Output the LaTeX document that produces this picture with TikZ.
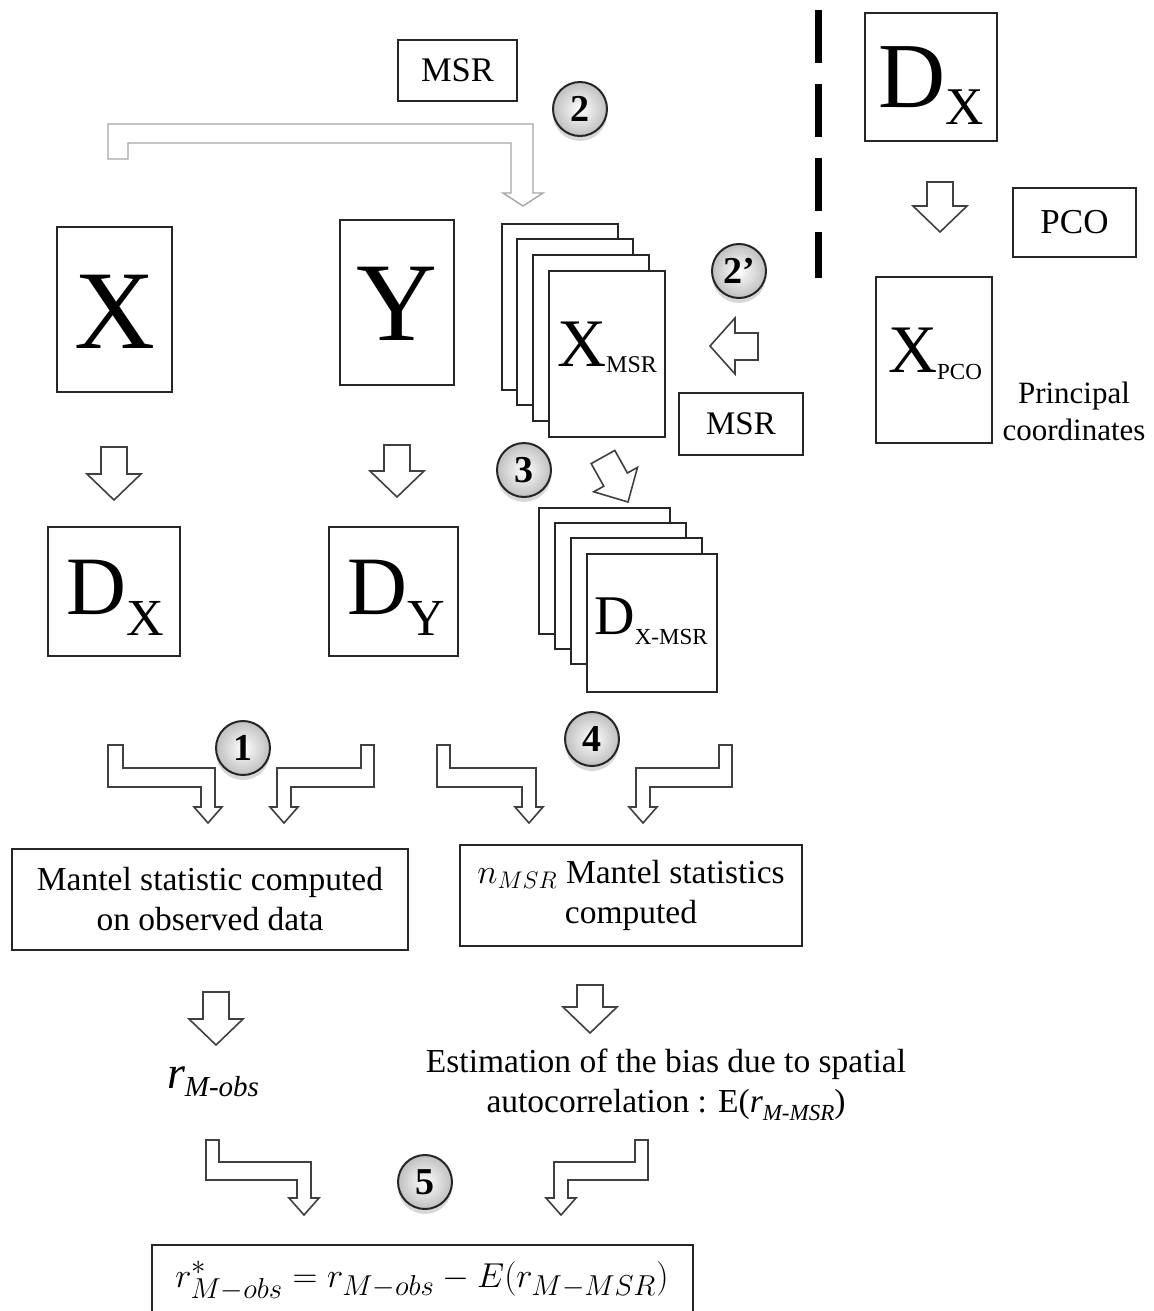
\documentclass[tikz,border=0pt]{standalone}
\usepackage{fontspec}
\setmainfont{Liberation Serif}
\usetikzlibrary{shadows}
\newcommand\cbox[5]{\node[bx, minimum width={(#4-#2)*0.5pt}, minimum height={(#5-#3)*0.5pt}] (#1) at ({(#2+#4)/2},{(#3+#5)/2}) {};}
\newcommand\blkdown[3]{\draw[barrow] ({#1-13},#2) -- ({#1+13},#2) -- ({#1+13},{#3-26}) -- ({#1+27},{#3-26}) -- (#1,#3) -- ({#1-27},{#3-26}) -- ({#1-13},{#3-26}) -- cycle;}
\newcommand\fs[1]{\fontsize{#1}{#1}\selectfont}
\begin{document}
\begin{tikzpicture}[x=0.5pt,y=-0.5pt,
  bx/.style={draw=black!85, line width=1pt, fill=white, inner sep=0pt},
  barrow/.style={draw=black!75, line width=0.8pt, fill=white, line join=miter},
  garrow/.style={draw=black!35, line width=0.7pt, fill=white, line join=miter},
  num/.style={circle, draw=black!85, line width=1pt, minimum size=27pt, inner sep=0pt,
    inner color=white, outer color=gray!50,
    drop shadow={shadow xshift=0pt, shadow yshift=-2.5pt, opacity=0.3},
    font=\fs{19pt}\bfseries},
  txt/.style={font=\fontsize{16.75pt}{20pt}\selectfont, align=center, inner sep=0pt},
  lab/.style={inner sep=0pt}]
\fill[white] (0,0) rectangle (1154,1311);
\useasboundingbox (0,0) rectangle (1154,1311);

% ---------- right panel ----------
\draw[line width=3.5pt, dash pattern=on 26.5pt off 10.5pt] (818,10) -- (818,278);
\cbox{dxr}{865}{13}{997}{141}
\node[lab] (dxrt) at (931,86) {\fs{46.5pt}D\raisebox{-8.5pt}{\fs{26.5pt}X}};
\blkdown{940}{182}{232}
\node[bx, minimum width=61.5pt, minimum height=34.5pt, font=\fs{17.5pt}] (pco) at (1074.5,222.5) {PCO};
\cbox{xpco}{876}{277}{992}{443}
\node[lab] (xpcot) at (935,354) {\fs{34pt}X\raisebox{-3.5pt}{\fs{11.5pt}PCO}};
\node[lab, align=center, font=\fontsize{15.5pt}{18.5pt}\selectfont] (pc) at (1074,411) {Principal\\coordinates};

% ---------- top gray bent arrow ----------
\draw[garrow] (108,124) -- (533,124) -- (533,193) -- (543,193) -- (523,206) -- (503,193) -- (511,193) -- (511,143) -- (128,143) -- (128,159) -- (108,159) -- cycle;
\node[bx, minimum width=59.5pt, minimum height=30.5pt, font=\fs{17.25pt}] (msrA) at (457.5,70.5) {MSR};
\node[num] (c2) at (580,109) {2};

% ---------- X, Y ----------
\cbox{X}{57}{227}{172}{392}
\node[lab] (Xt) at (115,312) {\fs{56pt}X};
\cbox{Y}{340}{220}{454}{385}
\node[lab] (Yt) at (397,304) {\fs{56pt}Y};

% ---------- X_MSR stack ----------
\cbox{xm1}{502}{224}{618}{390}
\cbox{xm2}{517}{239}{633}{405}
\cbox{xm3}{533}{255}{649}{421}
\cbox{xmsr}{549}{271}{665}{437}
\node[lab] (xmsrt) at (607,347.5) {\fs{34pt}X\raisebox{-3pt}{\fs{12pt}MSR}};
\node[num] (c2p) at (739,271) {2’};
\draw[barrow] (758,333) -- (735,333) -- (735,318) -- (710,346) -- (735,374) -- (735,360) -- (758,360) -- cycle;
\node[bx, minimum width=62pt, minimum height=31pt, font=\fs{16.5pt}] (msrB) at (741,424) {MSR};
\node[num] (c3) at (524,470) {3};
\draw[barrow] (591.2,463.6) -- (603.8,486.2) -- (593.7,491.8) -- (628,502) -- (637.5,467.4) -- (627.4,473.0) -- (614.8,450.4) -- cycle;

% ---------- D stack ----------
\cbox{dm1}{539}{508}{670}{634}
\cbox{dm2}{555}{523}{686}{649}
\cbox{dm3}{571}{538}{702}{664}
\cbox{dmsr}{587}{554}{717}{692}
\node[lab] (dmsrt) at (651,621) {\fs{28pt}D\raisebox{-5pt}{\fs{11.5pt}X-MSR}};

% ---------- D_X, D_Y ----------
\blkdown{114}{447}{500}
\blkdown{397}{445}{497}
\cbox{DX}{48}{527}{180}{656}
\node[lab] (DXt) at (115,598) {\fs{41.5pt}D\raisebox{-10.5pt}{\fs{26pt}X}};
\cbox{DY}{329}{527}{458}{656}
\node[lab] (DYt) at (396,598) {\fs{41.5pt}D\raisebox{-10.5pt}{\fs{26pt}Y}};

% ---------- bent arrows row 1 ----------
\draw[barrow] (108,745) -- (123,745) -- (123,768) -- (215,768) -- (215,807) -- (222,807) -- (208,823) -- (194,807) -- (201,807) -- (201,787) -- (108,787) -- cycle;
\draw[barrow] (374,745) -- (361,745) -- (361,768) -- (277,768) -- (277,807) -- (270,807) -- (284,823) -- (298,807) -- (291,807) -- (291,787) -- (374,787) -- cycle;
\draw[barrow] (437,745) -- (450,745) -- (450,768) -- (536,768) -- (536,807) -- (543,807) -- (529,823) -- (515,807) -- (522,807) -- (522,787) -- (437,787) -- cycle;
\draw[barrow] (732,745) -- (719,745) -- (719,768) -- (636,768) -- (636,807) -- (629,807) -- (643,823) -- (657,807) -- (650,807) -- (650,787) -- (732,787) -- cycle;
\node[num] (c1) at (243,748) {1};
\node[num] (c4) at (592,739) {4};

% ---------- Mantel boxes ----------
\node[bx, txt, minimum width=198pt, minimum height=50.5pt] (mo) at (210,899.5) {Mantel statistic computed\\on observed data};
\node[bx, txt, minimum width=171pt, minimum height=50.5pt] (mn) at (631,895.5) {$n_{MSR}$ Mantel statistics\\computed};
\blkdown{216}{992}{1045}
\blkdown{590}{985}{1033}
\node[lab] (robs) at (213,1082) {\fs{23pt}\itshape r\raisebox{-4pt}{\fs{14.5pt}M-obs}};
\node[txt] (est) at (666,1085) {Estimation of the bias due to spatial\\autocorrelation : E({\itshape r}\raisebox{-4pt}{\fs{11.5pt}\itshape M-MSR})};

% ---------- row 5 ----------
\draw[barrow] (206,1140) -- (219,1140) -- (219,1162) -- (311,1162) -- (311,1198) -- (319,1198) -- (304,1215) -- (289,1198) -- (297,1198) -- (297,1180) -- (206,1180) -- cycle;
\draw[barrow] (648,1140) -- (635,1140) -- (635,1162) -- (554,1162) -- (554,1198) -- (546,1198) -- (561,1215) -- (576,1198) -- (568,1198) -- (568,1180) -- (648,1180) -- cycle;
\node[num] (c5) at (425,1182) {5};
\draw[draw=black!85, line width=1pt] (152,1316) -- (152,1245) -- (693,1245) -- (693,1316);
\node[lab] (res) at (422,1281) {\fs{19pt}$r^{*}_{M-obs}=r_{M-obs}-E(r_{M-MSR})$};
\end{tikzpicture}
\end{document}
